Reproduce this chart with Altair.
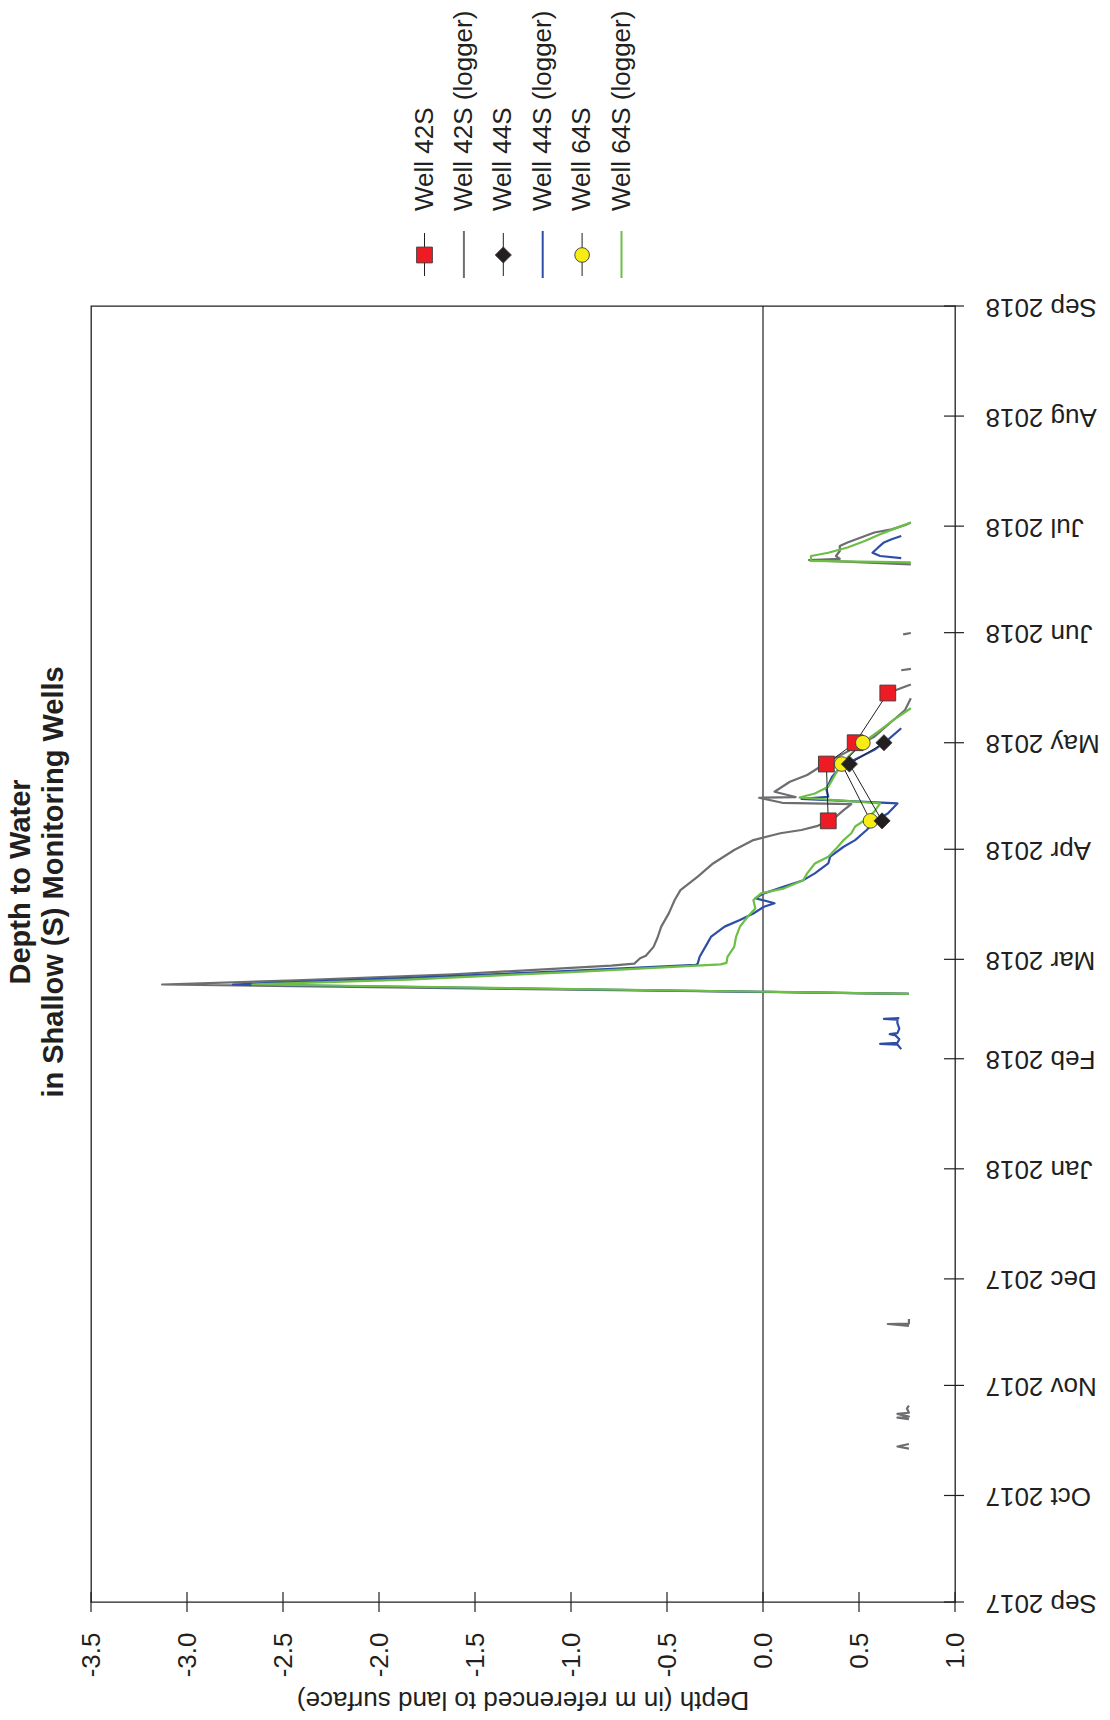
import altair as alt
import pandas as pd

FONT = "Liberation Sans"
INK = "#231F20"

# Plot area and margins (px)
W, H = 864, 1296
PADDING = {"left": 91, "top": 306, "right": 155, "bottom": 118}

TITLE_LINES = ["Depth to Water", "in Shallow (S) Monitoring Wells"]
DEPTH_TITLE = "Depth (in m referenced to land surface)"

# Logger records: each well is a list of continuous runs of (timestamp, depth in m)
WELL_42S_LOGGER = [
    [("2017-10-14 05:00", 0.76), ("2017-10-14 19:00", 0.70), ("2017-10-15 12:00", 0.76)],
    [("2017-10-22 12:00", 0.76), ("2017-10-22 22:00", 0.70), ("2017-10-23 05:00", 0.76),
     ("2017-10-24 00:00", 0.70), ("2017-10-24 07:00", 0.76), ("2017-10-25 12:00", 0.75),
     ("2017-10-26 07:00", 0.76)],
    [("2017-11-17 19:00", 0.76), ("2017-11-18 07:00", 0.65), ("2017-11-18 10:00", 0.76),
     ("2017-11-19 17:00", 0.76)],
    [("2018-02-19 07:00", 0.76), ("2018-02-21 22:00", -3.13), ("2018-02-23 02:00", -2.43),
     ("2018-02-24 19:00", -1.61), ("2018-02-27 05:00", -0.79), ("2018-02-27 19:00", -0.67),
     ("2018-03-01 07:00", -0.64), ("2018-03-02 00:00", -0.61), ("2018-03-04 12:00", -0.57),
     ("2018-03-07 00:00", -0.55), ("2018-03-10 05:00", -0.53), ("2018-03-14 00:00", -0.49),
     ("2018-03-17 17:00", -0.46), ("2018-03-20 12:00", -0.43), ("2018-03-24 07:00", -0.34),
     ("2018-03-28 00:00", -0.26), ("2018-03-31 19:00", -0.15), ("2018-04-03 14:00", -0.05),
     ("2018-04-05 12:00", 0.09), ("2018-04-06 10:00", 0.20), ("2018-04-07 12:00", 0.28),
     ("2018-04-09 17:00", 0.37), ("2018-04-12 00:00", 0.42), ("2018-04-13 17:00", 0.46),
     ("2018-04-14 02:00", 0.10), ("2018-04-15 12:00", -0.02), ("2018-04-15 17:00", 0.17),
     ("2018-04-17 05:00", 0.06), ("2018-04-20 00:00", 0.14), ("2018-04-21 22:00", 0.23),
     ("2018-04-24 07:00", 0.30), ("2018-04-26 14:00", 0.37), ("2018-04-28 12:00", 0.44),
     ("2018-04-30 19:00", 0.51), ("2018-05-02 17:00", 0.58), ("2018-05-06 12:00", 0.66),
     ("2018-05-10 05:00", 0.74), ("2018-05-13 12:00", 0.77)],
    [("2018-05-14 22:00", 0.64), ("2018-05-16 00:00", 0.70), ("2018-05-17 10:00", 0.77)],
    [("2018-05-21 10:00", 0.72), ("2018-05-21 19:00", 0.77)],
    [("2018-05-31 12:00", 0.73), ("2018-05-31 22:00", 0.77)],
    [("2018-06-20 05:00", 0.77), ("2018-06-21 10:00", 0.24), ("2018-06-21 19:00", 0.40),
     ("2018-06-22 14:00", 0.38), ("2018-06-24 00:00", 0.40), ("2018-06-25 10:00", 0.40),
     ("2018-06-26 10:00", 0.44), ("2018-06-27 19:00", 0.51), ("2018-06-29 05:00", 0.58),
     ("2018-06-30 02:00", 0.67), ("2018-07-01 12:00", 0.75), ("2018-07-02 00:00", 0.77)],
]

WELL_44S_LOGGER = [
    [("2018-02-03 17:00", 0.72), ("2018-02-05 00:00", 0.70), ("2018-02-05 05:00", 0.61),
     ("2018-02-05 12:00", 0.70), ("2018-02-06 12:00", 0.71), ("2018-02-07 14:00", 0.69),
     ("2018-02-07 22:00", 0.66), ("2018-02-08 05:00", 0.70), ("2018-02-09 12:00", 0.71),
     ("2018-02-11 00:00", 0.70), ("2018-02-12 00:00", 0.70), ("2018-02-12 05:00", 0.63),
     ("2018-02-12 10:00", 0.71)],
    [("2018-02-19 07:00", 0.76), ("2018-02-21 22:00", -2.76), ("2018-02-23 17:00", -1.88),
     ("2018-02-25 14:00", -1.06), ("2018-02-27 10:00", -0.35), ("2018-02-27 19:00", -0.34),
     ("2018-03-01 17:00", -0.33), ("2018-03-05 12:00", -0.29), ("2018-03-07 10:00", -0.27),
     ("2018-03-10 05:00", -0.20), ("2018-03-12 02:00", -0.12), ("2018-03-13 22:00", -0.05),
     ("2018-03-15 19:00", 0.005), ("2018-03-16 19:00", 0.06), ("2018-03-18 05:00", -0.04),
     ("2018-03-19 14:00", 0.005), ("2018-03-21 12:00", 0.11), ("2018-03-23 07:00", 0.21),
     ("2018-03-25 05:00", 0.27), ("2018-03-28 00:00", 0.34), ("2018-03-29 22:00", 0.35),
     ("2018-04-01 17:00", 0.42), ("2018-04-03 14:00", 0.48), ("2018-04-06 10:00", 0.54),
     ("2018-04-09 05:00", 0.59), ("2018-04-11 02:00", 0.65), ("2018-04-13 22:00", 0.70),
     ("2018-04-15 05:00", 0.20), ("2018-04-15 19:00", 0.34), ("2018-04-18 00:00", 0.33),
     ("2018-04-21 10:00", 0.36), ("2018-04-23 07:00", 0.39), ("2018-04-25 05:00", 0.44),
     ("2018-04-26 14:00", 0.49), ("2018-04-29 00:00", 0.58), ("2018-05-01 19:00", 0.65),
     ("2018-05-05 02:00", 0.72)],
    [("2018-06-22 00:00", 0.72), ("2018-06-22 14:00", 0.61), ("2018-06-23 12:00", 0.57),
     ("2018-06-25 00:00", 0.60), ("2018-06-26 10:00", 0.63), ("2018-06-27 07:00", 0.67),
     ("2018-06-28 05:00", 0.72)],
]

WELL_64S_LOGGER = [
    [("2018-02-19 07:00", 0.76), ("2018-02-21 22:00", -2.66), ("2018-02-23 07:00", -1.85),
     ("2018-02-25 10:00", -1.00), ("2018-02-27 14:00", -0.22), ("2018-02-28 00:00", -0.19),
     ("2018-03-01 17:00", -0.185), ("2018-03-04 12:00", -0.15), ("2018-03-07 10:00", -0.14),
     ("2018-03-10 05:00", -0.12), ("2018-03-13 00:00", -0.08), ("2018-03-15 07:00", -0.04),
     ("2018-03-17 17:00", -0.05), ("2018-03-19 14:00", -0.01), ("2018-03-21 00:00", 0.11),
     ("2018-03-23 07:00", 0.21), ("2018-03-25 05:00", 0.23), ("2018-03-28 00:00", 0.27),
     ("2018-03-29 22:00", 0.34), ("2018-04-01 17:00", 0.39), ("2018-04-03 14:00", 0.42),
     ("2018-04-05 12:00", 0.46), ("2018-04-07 10:00", 0.48), ("2018-04-09 05:00", 0.53),
     ("2018-04-11 14:00", 0.58), ("2018-04-13 22:00", 0.61), ("2018-04-15 14:00", 0.19),
     ("2018-04-16 17:00", 0.27), ("2018-04-18 14:00", 0.34), ("2018-04-22 10:00", 0.38),
     ("2018-04-25 05:00", 0.41), ("2018-04-29 00:00", 0.48), ("2018-05-01 19:00", 0.54),
     ("2018-05-04 14:00", 0.61), ("2018-05-07 10:00", 0.68), ("2018-05-10 17:00", 0.77)],
    [("2018-06-20 19:00", 0.77), ("2018-06-21 05:00", 0.25), ("2018-06-22 14:00", 0.25),
     ("2018-06-23 12:00", 0.34), ("2018-06-25 00:00", 0.44), ("2018-06-26 19:00", 0.53),
     ("2018-06-28 17:00", 0.61), ("2018-06-30 14:00", 0.70), ("2018-07-02 00:00", 0.77)],
]

# Manual soundings
WELL_42S_DATES = ["2018-04-09", "2018-04-25", "2018-05-01", "2018-05-15"]
WELL_42S_DEPTH = [0.34, 0.33, 0.48, 0.65]
WELL_44S_DATES = ["2018-04-09", "2018-04-25", "2018-05-01"]
WELL_44S_DEPTH = [0.62, 0.45, 0.63]
WELL_64S_DATES = ["2018-04-09", "2018-04-25", "2018-05-01"]
WELL_64S_DEPTH = [0.56, 0.41, 0.52]

DEPTH_TICKS = [-3.5, -3.0, -2.5, -2.0, -1.5, -1.0, -0.5, 0.0, 0.5, 1.0]
MONTH_TICKS = [(2017, m) for m in range(9, 13)] + [(2018, m) for m in range(1, 10)]

COLORS = {
    "42S": "#ED1C24", "42S logger": "#6D6E71",
    "44S": "#231F20", "44S logger": "#2E4DA7",
    "64S": "#F7EC13", "64S logger": "#6CBE45",
}
SYMBOL_SIZE = {"square": 250, "circle": 215, "diamond": 260}

LEGEND_ITEMS = [
    ("Well 42S", "manual", COLORS["42S"], "square"),
    ("Well 42S (logger)", "logger", COLORS["42S logger"], None),
    ("Well 44S", "manual", COLORS["44S"], "diamond"),
    ("Well 44S (logger)", "logger", COLORS["44S logger"], None),
    ("Well 64S", "manual", COLORS["64S"], "circle"),
    ("Well 64S (logger)", "logger", COLORS["64S logger"], None),
]
LEGEND_X0, LEGEND_STEP = 333.5, 39.4


def logger_frame(runs):
    rows, seq = [], 0
    for k, run in enumerate(runs):
        for ts, depth in run:
            rows.append({"date": pd.Timestamp(ts), "depth": depth, "run": k, "seq": seq})
            seq += 1
    return pd.DataFrame(rows)


def manual_frame(dates, depths):
    return pd.DataFrame({"date": pd.to_datetime(dates), "depth": depths,
                         "seq": range(len(dates))})


x_scale = alt.Scale(domain=[-3.5, 1.0], nice=False, zero=False)
y_scale = alt.Scale(domain=[alt.DateTime(year=2017, month=9, date=1),
                            alt.DateTime(year=2018, month=9, date=1)], nice=False)

x_axis = alt.Axis(
    values=DEPTH_TICKS, labelExpr="replace(format(datum.value, '.1f'), '\u2212', '-')",
    labelAngle=270, labelAlign="right", labelBaseline="middle", labelPadding=30,
    ticks=False, tickSize=0, domain=False, grid=False, title=None,
    labelFont=FONT, labelFontSize=26, labelColor=INK,
    labelFlush=False, labelOverlap=False, labelBound=False,
)
y_axis = alt.Axis(
    orient="right",
    values=[alt.DateTime(year=y, month=m, date=1) for y, m in MONTH_TICKS],
    format="%b %Y", labelAngle=180, labelAlign="right", labelBaseline="middle",
    labelPadding=30, ticks=False, tickSize=0, domain=False, grid=False, title=None,
    labelFont=FONT, labelFontSize=26, labelColor=INK,
    labelFlush=False, labelOverlap=False, labelBound=False,
)

X = alt.X("depth:Q", scale=x_scale, axis=x_axis)
Y = alt.Y("date:T", scale=y_scale, axis=y_axis)

layers = []

# zero-depth reference line
layers.append(
    alt.Chart(pd.DataFrame({"depth": [0.0]}))
    .mark_rule(color=INK, strokeWidth=1.2)
    .encode(x=X)
)

# tick marks crossing the frame
layers.append(
    alt.Chart(pd.DataFrame({"depth": DEPTH_TICKS}))
    .mark_rule(color=INK, strokeWidth=1.2)
    .encode(x=X, y=alt.value(H - 10), y2=alt.value(H + 10))
)
layers.append(
    alt.Chart(pd.DataFrame({"date": [pd.Timestamp(y, m, 1) for y, m in MONTH_TICKS]}))
    .mark_rule(color=INK, strokeWidth=1.2)
    .encode(y=Y, x=alt.value(W - 11), x2=alt.value(W + 9))
)

# logger traces
for runs, key in [(WELL_42S_LOGGER, "42S logger"), (WELL_44S_LOGGER, "44S logger"),
                  (WELL_64S_LOGGER, "64S logger")]:
    layers.append(
        alt.Chart(logger_frame(runs))
        .mark_line(color=COLORS[key], strokeWidth=2.2, strokeJoin="round")
        .encode(x=X, y=Y, detail="run:N", order=alt.Order("seq:Q"))
    )

# manual soundings: connecting lines, then symbols
manual = [
    (WELL_42S_DATES, WELL_42S_DEPTH, "42S", "square"),
    (WELL_64S_DATES, WELL_64S_DEPTH, "64S", "circle"),
    (WELL_44S_DATES, WELL_44S_DEPTH, "44S", "diamond"),
]
for dates, depths, key, shape in manual:
    layers.append(
        alt.Chart(manual_frame(dates, depths))
        .mark_line(color=INK, strokeWidth=1)
        .encode(x=X, y=Y, order=alt.Order("seq:Q"))
    )
for dates, depths, key, shape in manual:
    layers.append(
        alt.Chart(manual_frame(dates, depths))
        .mark_point(shape=shape, size=SYMBOL_SIZE[shape], filled=True, fill=COLORS[key],
                    stroke="#3A3A3A", strokeWidth=0.9, opacity=1)
        .encode(x=X, y=Y)
    )

# chart title, read upward along the left edge
for text, xpos in zip(TITLE_LINES, [-61, -28]):
    layers.append(
        alt.Chart(pd.DataFrame({"t": [text]}))
        .mark_text(angle=270, align="center", baseline="alphabetic", font=FONT,
                   fontSize=29, fontWeight="bold", color=INK)
        .encode(text="t:N", x=alt.value(xpos), y=alt.value(576))
    )

# depth axis title
layers.append(
    alt.Chart(pd.DataFrame({"t": [DEPTH_TITLE]}))
    .mark_text(angle=180, align="center", baseline="middle", font=FONT,
               fontSize=26, color=INK)
    .encode(text="t:N", x=alt.value(W / 2), y=alt.value(H + 98))
)

# legend above the plot
for i, (label, kind, color, shape) in enumerate(LEGEND_ITEMS):
    lx = LEGEND_X0 + i * LEGEND_STEP
    one = pd.DataFrame({"t": [label]})
    layers.append(
        alt.Chart(one)
        .mark_text(angle=270, align="left", baseline="middle", font=FONT,
                   fontSize=26, color=INK)
        .encode(text="t:N", x=alt.value(lx), y=alt.value(-95))
    )
    if kind == "logger":
        layers.append(
            alt.Chart(one).mark_rule(color=color, strokeWidth=2)
            .encode(x=alt.value(lx), y=alt.value(-75), y2=alt.value(-28))
        )
    else:
        layers.append(
            alt.Chart(one).mark_rule(color=INK, strokeWidth=1)
            .encode(x=alt.value(lx), y=alt.value(-73), y2=alt.value(-30))
        )
        layers.append(
            alt.Chart(one)
            .mark_point(shape=shape, size=SYMBOL_SIZE[shape], filled=True,
                        fill=color, stroke="#3A3A3A", strokeWidth=0.9, opacity=1)
            .encode(x=alt.value(lx), y=alt.value(-51))
        )

chart = (
    alt.layer(*layers)
    .properties(width=W, height=H, autosize=alt.AutoSizeParams(type="none"),
                padding=PADDING, background="white")
    .configure_view(stroke=INK, strokeWidth=1.3)
)

chart.save("out.html", embed_options={"renderer": "svg", "actions": False})
